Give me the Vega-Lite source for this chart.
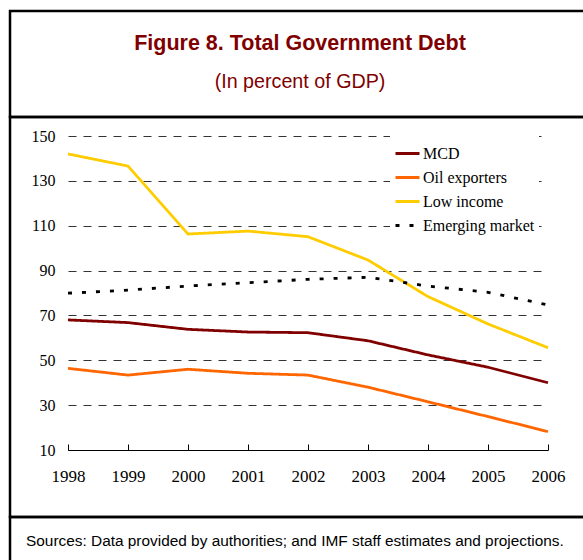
{
  "$schema": "https://vega.github.io/schema/vega-lite/v6.json",
  "autosize": {"type": "none"},
  "padding": {"left": 10, "top": 11, "right": 573, "bottom": 549},
  "spacing": 0,
  "bounds": "flush",
  "resolve": {"legend": {"color": "independent", "strokeDash": "independent"}},
  "config": {
    "view": {"stroke": "black", "strokeWidth": 2.5},
    "concat": {"spacing": 0}
  },
  "vconcat": [
    {
      "width": 580,
      "height": 106,
      "view": {"stroke": "black", "strokeWidth": 2.5},
      "data": {"values": [{"t": ""}]},
      "mark": {"type": "text"},
      "encoding": {"text": {"field": "t"}},
      "title": {
        "text": "Figure 8. Total Government Debt",
        "subtitle": "(In percent of GDP)",
        "font": "Liberation Sans",
        "fontSize": 21.5,
        "fontWeight": "bold",
        "color": "#800000",
        "subtitleFont": "Liberation Sans",
        "subtitleFontSize": 19.7,
        "subtitleFontWeight": "normal",
        "subtitleColor": "#800000",
        "subtitlePadding": 18,
        "anchor": "middle",
        "frame": "group",
        "offset": -81
      }
    },
    {
      "width": 580,
      "height": 400,
      "view": {"stroke": "black", "strokeWidth": 2.5},
      "data": {"values": [
        {"year": 1998, "series": "MCD", "value": 68.0},
        {"year": 1999, "series": "MCD", "value": 66.8},
        {"year": 2000, "series": "MCD", "value": 63.8},
        {"year": 2001, "series": "MCD", "value": 62.6},
        {"year": 2002, "series": "MCD", "value": 62.3},
        {"year": 2003, "series": "MCD", "value": 58.7},
        {"year": 2004, "series": "MCD", "value": 52.4},
        {"year": 2005, "series": "MCD", "value": 46.9},
        {"year": 2006, "series": "MCD", "value": 40.0},
        {"year": 1998, "series": "Oil exporters", "value": 46.4},
        {"year": 1999, "series": "Oil exporters", "value": 43.4},
        {"year": 2000, "series": "Oil exporters", "value": 46.0},
        {"year": 2001, "series": "Oil exporters", "value": 44.2},
        {"year": 2002, "series": "Oil exporters", "value": 43.4},
        {"year": 2003, "series": "Oil exporters", "value": 38.0},
        {"year": 2004, "series": "Oil exporters", "value": 31.5},
        {"year": 2005, "series": "Oil exporters", "value": 24.9},
        {"year": 2006, "series": "Oil exporters", "value": 18.2},
        {"year": 1998, "series": "Low income", "value": 142.0},
        {"year": 1999, "series": "Low income", "value": 136.6},
        {"year": 2000, "series": "Low income", "value": 106.3},
        {"year": 2001, "series": "Low income", "value": 107.6},
        {"year": 2002, "series": "Low income", "value": 105.1},
        {"year": 2003, "series": "Low income", "value": 94.7},
        {"year": 2004, "series": "Low income", "value": 78.4},
        {"year": 2005, "series": "Low income", "value": 66.2},
        {"year": 2006, "series": "Low income", "value": 55.6},
        {"year": 1998, "series": "Emerging market", "value": 79.9},
        {"year": 1999, "series": "Emerging market", "value": 81.3},
        {"year": 2000, "series": "Emerging market", "value": 83.1},
        {"year": 2001, "series": "Emerging market", "value": 84.6},
        {"year": 2002, "series": "Emerging market", "value": 86.1},
        {"year": 2003, "series": "Emerging market", "value": 87.0},
        {"year": 2004, "series": "Emerging market", "value": 83.1},
        {"year": 2005, "series": "Emerging market", "value": 80.3},
        {"year": 2006, "series": "Emerging market", "value": 74.7}
      ]},
      "mark": {"type": "line", "strokeWidth": 2.8},
      "encoding": {
        "x": {
          "field": "year", "type": "quantitative",
          "scale": {"domain": [1998, 2006], "range": [58, 538], "nice": false, "zero": false},
          "axis": {
            "values": [1998, 1999, 2000, 2001, 2002, 2003, 2004, 2005, 2006],
            "format": "d", "title": null, "orient": "bottom", "offset": -67,
            "grid": false, "domain": true, "domainColor": "black", "domainWidth": 1,
            "ticks": true, "tickSize": -6, "tickColor": "black", "tickWidth": 1,
            "labelPadding": 24, "labelFont": "Liberation Serif", "labelFontSize": 17,
            "labelColor": "black", "labelFlush": false, "labelOverlap": false
          }
        },
        "y": {
          "field": "value", "type": "quantitative",
          "scale": {"domain": [10, 150], "range": [333, 19], "nice": false, "zero": false},
          "axis": {
            "values": [10, 30, 50, 70, 90, 110, 130, 150],
            "title": null, "offset": -58, "domain": false, "ticks": false, "tickSize": 0,
            "labelPadding": 13, "grid": true, "gridColor": "#333333", "gridDash": [8, 7], "gridWidth": 1,
            "labelFont": "Liberation Serif", "labelFontSize": 16, "labelColor": "black"
          }
        },
        "color": {
          "field": "series", "type": "nominal",
          "scale": {"domain": ["MCD", "Oil exporters", "Low income", "Emerging market"], "range": ["#800000", "#ff6600", "#ffcc00", "#000000"]},
          "legend": {
            "title": null, "orient": "none", "legendX": 380, "legendY": 19, "fillColor": "white", "padding": 4,
            "symbolType": "stroke", "symbolSize": 576, "symbolStrokeWidth": 3,
            "labelFont": "Liberation Serif", "labelFontSize": 16, "labelColor": "black", "labelOffset": 2, "rowPadding": 2
          }
        },
        "strokeDash": {
          "field": "series", "type": "nominal",
          "scale": {"domain": ["MCD", "Oil exporters", "Low income", "Emerging market"], "range": [[1, 0], [1, 0], [1, 0], [4, 10]]},
          "legend": {
            "title": null, "orient": "none", "legendX": 380, "legendY": 19, "fillColor": "white", "padding": 4,
            "symbolType": "stroke", "symbolSize": 576, "symbolStrokeWidth": 3,
            "labelFont": "Liberation Serif", "labelFontSize": 16, "labelColor": "black", "labelOffset": 2, "rowPadding": 2
          }
        }
      }
    },
    {
      "width": 580,
      "height": 50,
      "view": {"stroke": "black", "strokeWidth": 2.5},
      "data": {"values": [{"t": ""}]},
      "mark": {"type": "text"},
      "encoding": {"text": {"field": "t"}},
      "title": {
        "text": "Sources: Data provided by authorities; and IMF staff estimates and projections.",
        "font": "Liberation Sans",
        "fontSize": 15.4,
        "fontWeight": "normal",
        "color": "black",
        "anchor": "start",
        "frame": "group",
        "dx": 16,
        "offset": -32
      }
    }
  ]
}
